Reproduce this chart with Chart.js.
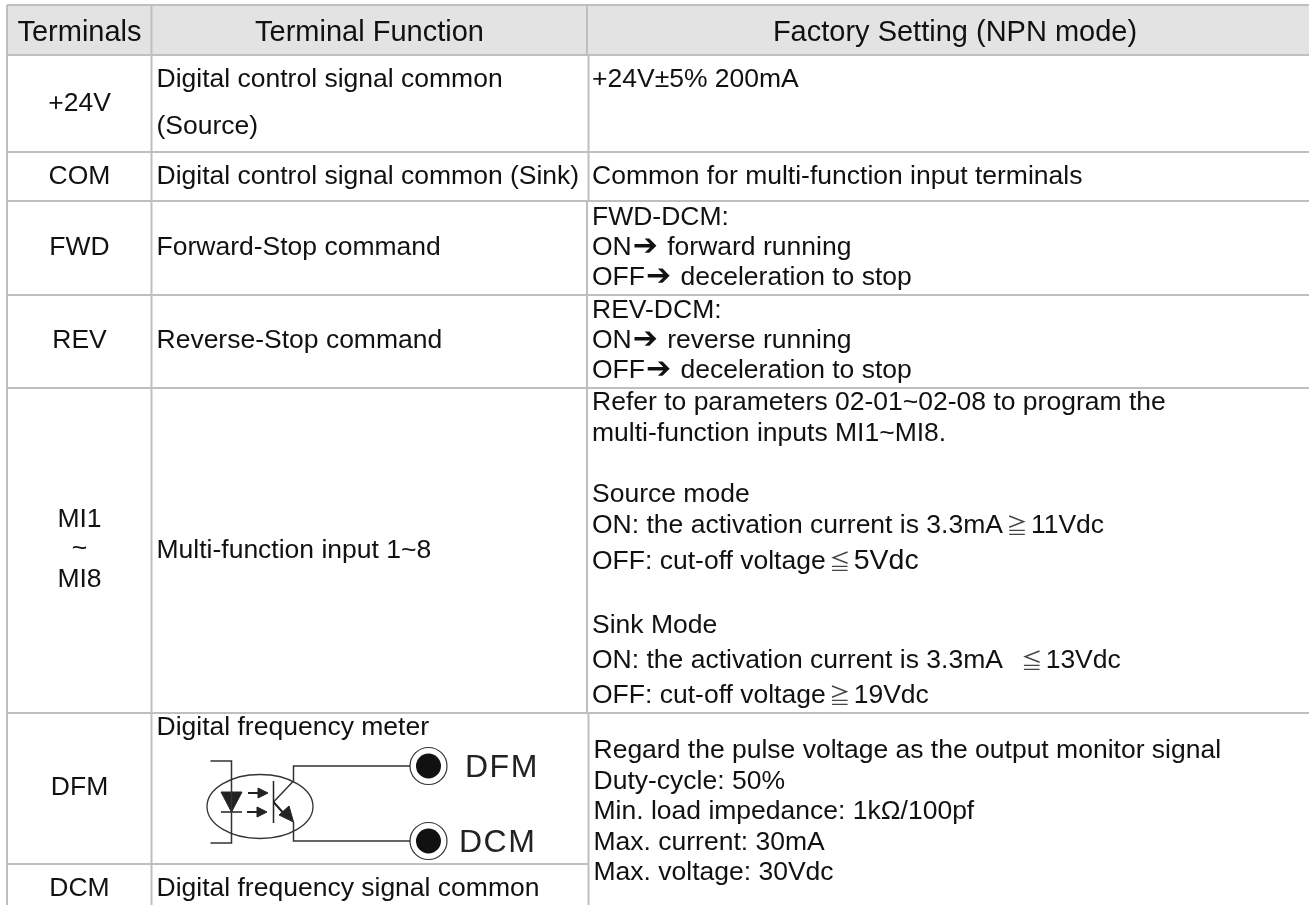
<!DOCTYPE html>
<html>
<head>
<meta charset="utf-8">
<title>Terminals</title>
<style>
  html, body { margin: 0; padding: 0; background: #fff; }
  canvas { display: block; }
</style>
<script src="https://cdn.jsdelivr.net/npm/chart.js@4/dist/chart.umd.min.js"></script>
</head>
<body>
<canvas id="table" width="1309" height="905"></canvas>
<script>
// table text, one list per column
var headerLabels = ['Terminals', 'Terminal Function', 'Factory Setting (NPN mode)'];
var terminalLabels = ['+24V', 'COM', 'FWD', 'REV', 'MI1', '~', 'MI8', 'DFM', 'DCM'];
var functionLines = [
    'Digital control signal common', '(Source)', 'Digital control signal common (Sink)',
    'Forward-Stop command', 'Reverse-Stop command', 'Multi-function input 1~8',
    'Digital frequency meter', 'Digital frequency signal common'
];
var settingLines = [
    '+24V±5% 200mA', 'Common for multi-function input terminals',
    'FWD-DCM:', 'ON➔ forward running', 'OFF➔ deceleration to stop',
    'REV-DCM:', 'ON➔ reverse running', 'OFF➔ deceleration to stop',
    'Refer to parameters 02-01~02-08 to program the', 'multi-function inputs MI1~MI8.',
    'Source mode', 'ON: the activation current is 3.3mA≧11Vdc', 'OFF: cut-off voltage≦5Vdc',
    'Sink Mode', 'ON: the activation current is 3.3mA  ≦13Vdc', 'OFF: cut-off voltage≧19Vdc',
    'Regard the pulse voltage as the output monitor signal', 'Duty-cycle: 50%',
    'Min. load impedance: 1kΩ/100pf', 'Max. current: 30mA', 'Max. voltage: 30Vdc'
];
var diagramLabels = ['DFM', 'DCM'];

// baselines, same order as the lists above
var headerBaseline = 40.5;
var terminalBaselines = [111, 184, 255, 348, 527, 556, 587, 795, 896];
var functionBaselines = [87, 134, 184, 255, 348, 558, 735, 896];
var settingBaselines = [87, 184, 225, 255, 285, 318, 348, 378, 410, 441, 502, 533, 569, 633, 668, 703, 758, 789, 819, 850, 880];
var diagramBaselines = [777, 852];

// table rules
var tableLeft = 7, tableRight = 1309, tableTop = 5, tableBottom = 905;
var colTerminal = 151.5, colSetting = 587, colSettingLow = 588.5;
var rowHeader = 55, rowLines = [152, 201, 295, 388, 713];
var rowDcm = 864;

var ink = '#111';
var rule = '#bfbfbf';
var wire = '#333';

// higher order is painted first
var ORDER_BAND = 5, ORDER_RULE = 4, ORDER_WIRE = 3;

function path(points, color, width, order) {
    return {
        data: points.map(function (p) { return { x: p[0], y: p[1] }; }),
        showLine: true, borderColor: color, borderWidth: width, pointRadius: 0,
        order: order === undefined ? ORDER_WIRE : order
    };
}
function seg(x0, y0, x1, y1, color, width, order) {
    return path([[x0, y0], [x1, y1]], color, width, order);
}
function shape(points, color) {
    var d = path(points.concat([points[0]]), color, 1);
    d.fill = 'shape';
    d.backgroundColor = color;
    return d;
}

var datasets = [];

// header band
datasets.push({
    data: [{ x: tableLeft, y: tableTop }, { x: tableRight, y: tableTop }],
    showLine: true, borderWidth: 0, pointRadius: 0, order: ORDER_BAND,
    fill: { value: rowHeader }, backgroundColor: '#e3e3e3'
});

// horizontal and vertical rules
datasets.push(seg(tableLeft, tableTop, tableRight, tableTop, rule, 2, ORDER_RULE));
datasets.push(seg(tableLeft, rowHeader, tableRight, rowHeader, rule, 2, ORDER_RULE));
rowLines.forEach(function (y) {
    datasets.push(seg(tableLeft, y, tableRight, y, rule, 2, ORDER_RULE));
});
datasets.push(seg(tableLeft, rowDcm, colSettingLow, rowDcm, rule, 2, ORDER_RULE));
datasets.push(seg(tableLeft, tableTop, tableLeft, tableBottom, rule, 2, ORDER_RULE));
datasets.push(seg(colTerminal, tableTop, colTerminal, tableBottom, rule, 2, ORDER_RULE));
datasets.push(seg(colSetting, tableTop, colSetting, rowHeader, rule, 2, ORDER_RULE));
datasets.push(seg(colSettingLow, rowHeader, colSettingLow, rowLines[1], rule, 2, ORDER_RULE));
datasets.push(seg(colSetting, rowLines[1], colSetting, rowLines[4], rule, 2, ORDER_RULE));
datasets.push(seg(colSettingLow, rowLines[4], colSettingLow, tableBottom, rule, 2, ORDER_RULE));

// optocoupler diagram
var wireTop = 766, wireLow = 841, terminalX = 428.5;
datasets.push(path([[210.5, 761], [231.5, 761], [231.5, 843], [210.5, 843]], wire, 1.5));
datasets.push(seg(221, 812, 242, 812, '#222', 1.5));
datasets.push(shape([[221, 792], [242, 792], [231.5, 812]], '#222'));
datasets.push(seg(248, 793, 260, 793, '#222', 2));
datasets.push(shape([[258, 788], [268, 793], [258, 798]], '#222'));
datasets.push(seg(247, 812, 259, 812, '#222', 2));
datasets.push(shape([[257, 807], [267, 812], [257, 817]], '#222'));
datasets.push(seg(273.5, 781, 273.5, 823, '#222', 1.5));
datasets.push(path([[273.5, 802], [293.5, 781], [293.5, wireTop], [terminalX, wireTop]], wire, 1.5));
datasets.push(seg(273.5, 802, 286, 816, '#222', 2));
datasets.push(shape([[293.5, 822], [279, 815], [289, 806]], '#222'));
datasets.push(path([[293.5, 822], [293.5, wireLow], [terminalX, wireLow]], wire, 1.5));
datasets.push({
    data: [{ x: terminalX, y: wireTop }, { x: terminalX, y: wireLow }],
    pointRadius: 18.5, pointBackgroundColor: '#fff', pointBorderColor: wire, pointBorderWidth: 1.2, order: 1
});
datasets.push({
    data: [{ x: terminalX, y: wireTop }, { x: terminalX, y: wireLow }],
    pointRadius: 12.5, pointBackgroundColor: '#111', pointBorderColor: '#111', pointBorderWidth: 0, order: 0
});

var headerFont = '29px "Liberation Sans", Arial, sans-serif';
var bodyFont = '26.5px "Liberation Sans", Arial, sans-serif';
var largeFont = '28.5px "Liberation Sans", Arial, sans-serif';
var arrowFont = '30px "DejaVu Sans", sans-serif';
var compareFont = '21px "Noto Sans CJK JP", sans-serif';

// symbols are not in Liberation Sans so they get their own font, size and side gaps
function drawLine(ctx, text, x, y) {
    text.split(/([≧≦➔])/).forEach(function (part) {
        if (!part) return;
        var before = 0, after = 0;
        if (part === '➔') {
            ctx.font = arrowFont; before = 1; after = 2;
        } else if (part === '≧' || part === '≦') {
            ctx.font = compareFont; before = 3.5; after = 3.5;
            ctx.fillStyle = '#444';
        } else if (part === '5Vdc') {
            ctx.font = largeFont;
        } else {
            ctx.font = bodyFont;
        }
        ctx.fillText(part, x + before, y);
        ctx.fillStyle = ink;
        x += before + ctx.measureText(part).width + after;
    });
}

var tableText = {
    id: 'tableText',
    afterDatasetsDraw: function (chart) {
        var ctx = chart.ctx;
        var sx = chart.scales.x, sy = chart.scales.y;
        ctx.save();
        ctx.fillStyle = ink;
        ctx.textBaseline = 'alphabetic';

        // isolator outline
        ctx.strokeStyle = wire;
        ctx.lineWidth = 1.3;
        ctx.beginPath();
        ctx.ellipse(sx.getPixelForValue(260), sy.getPixelForValue(806.5), 53, 32, 0, 0, Math.PI * 2);
        ctx.stroke();

        ctx.textAlign = 'center';
        ctx.font = headerFont;
        var headerX = [79.5, 369.5, 955];
        headerLabels.forEach(function (t, i) {
            ctx.fillText(t, sx.getPixelForValue(headerX[i]), sy.getPixelForValue(headerBaseline));
        });
        ctx.font = bodyFont;
        terminalLabels.forEach(function (t, i) {
            ctx.fillText(t, sx.getPixelForValue(79.5), sy.getPixelForValue(terminalBaselines[i]));
        });

        ctx.textAlign = 'left';
        functionLines.forEach(function (t, i) {
            ctx.fillText(t, sx.getPixelForValue(156.5), sy.getPixelForValue(functionBaselines[i]));
        });
        settingLines.forEach(function (t, i) {
            var x = i >= 16 ? 593.5 : 592;
            drawLine(ctx, t, sx.getPixelForValue(x), sy.getPixelForValue(settingBaselines[i]));
        });

        // diagram pin labels are a bit larger and spaced out
        ctx.fillStyle = '#222';
        ctx.font = '32px "Liberation Sans", Arial, sans-serif';
        ctx.letterSpacing = '1.5px';
        var pinX = [465, 459];
        diagramLabels.forEach(function (t, i) {
            ctx.fillText(t, sx.getPixelForValue(pinX[i]), sy.getPixelForValue(diagramBaselines[i]));
        });
        ctx.restore();
    }
};

var chart = new Chart(document.getElementById('table').getContext('2d'), {
    type: 'scatter',
    data: { datasets: datasets },
    plugins: [tableText],
    options: {
        responsive: false,
        animation: false,
        events: [],
        layout: { padding: 0, autoPadding: false },
        scales: {
            x: { type: 'linear', min: 0, max: 1309, display: false },
            y: { type: 'linear', min: 0, max: 905, reverse: true, display: false }
        },
        plugins: {
            legend: { display: false },
            tooltip: { enabled: false },
            title: { display: false }
        }
    }
});
</script>
</body>
</html>
